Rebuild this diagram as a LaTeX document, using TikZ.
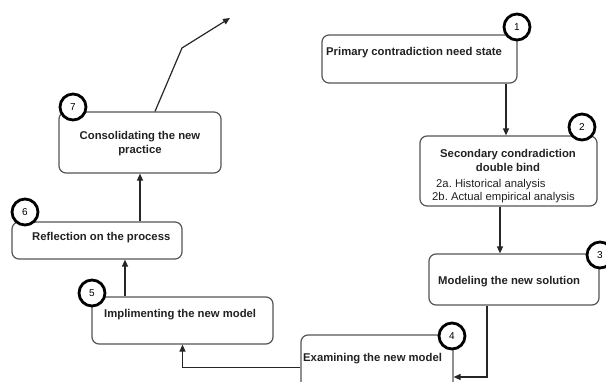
\documentclass[tikz,border=0pt]{standalone}
\usepackage{fontspec}
\setmainfont{Liberation Sans}
\usetikzlibrary{arrows.meta}
\definecolor{boxgray}{HTML}{555555}
\definecolor{textgray}{HTML}{222222}
\begin{document}
\begin{tikzpicture}[x=1pt,y=-1pt,
  box/.style={draw=boxgray, line width=1.2pt, rounded corners=7pt, fill=white, inner sep=0pt},
  num/.style={circle, draw=black, line width=2.8pt, fill=white, minimum size=26pt, inner sep=0pt, font=\fontsize{10}{11}\selectfont},
  lbl/.style={font=\bfseries\fontsize{11.3}{14}\selectfont, text=textgray, inner sep=0pt},
  sub/.style={font=\frenchspacing\fontsize{11.3}{13}\selectfont, text=textgray, inner sep=0pt},
  conn/.style={draw=black!85, line width=1.2pt, -{Triangle[length=7pt,width=6pt]}}]
\useasboundingbox (0,0) rectangle (606,381);
\clip (0,0) rectangle (606,381);
% boxes
\node[box, minimum width=195pt, minimum height=48pt] (b1) at (419.5,59) {};
\node[box, minimum width=177pt, minimum height=70pt] (b2) at (508.5,171) {};
\node[box, minimum width=170pt, minimum height=51pt] (b3) at (514,279.5) {};
\node[box, minimum width=152pt, minimum height=65pt] (b4) at (377,367.5) {};
\node[box, minimum width=181pt, minimum height=47pt] (b5) at (182.5,320.5) {};
\node[box, minimum width=170pt, minimum height=37pt] (b6) at (97,240.5) {};
\node[box, minimum width=162pt, minimum height=61pt] (b7) at (140,142.5) {};
% texts
\node[lbl, anchor=west] (t1) at (326,53) {Primary contradiction need state};
\node[lbl] (t2a) at (508,155) {Secondary condradiction};
\node[lbl] (t2b) at (508,167) {double bind};
\node[sub, anchor=west] (t2c) at (436,185) {2a. Historical analysis};
\node[sub, anchor=west] (t2d) at (432,198) {2b. Actual empirical analysis};
\node[lbl, anchor=west] (t3) at (438,282) {Modeling the new solution};
\node[lbl, anchor=west] (t4) at (303,359) {Examining the new model};
\node[lbl, anchor=west] (t5) at (104,315) {Implimenting the new model};
\node[lbl, anchor=west] (t6) at (32,238) {Reflection on the process};
\node[lbl, align=center] (t7) at (140,144) {Consolidating the new\\practice};
% connectors
\draw[conn] ([xshift=86.5pt]b1.south) -- ([xshift=86.5pt]b1.south |- b2.north);
\draw[conn] ([xshift=-8.5pt]b2.south) -- ([xshift=-8.5pt]b2.south |- b3.north);
\draw[conn] ([xshift=-27pt]b3.south) |- ([yshift=-9.5pt]b4.east);
\draw[conn] (b4.west) -| (b5.south);
\draw[conn] ([xshift=-57.5pt]b5.north) -- ([xshift=-57.5pt]b5.north |- b6.south);
\draw[conn] (b7.south |- b6.north) -- (b7.south);
\coordinate (bend) at (182,48);
\coordinate (out) at (230,18);
\draw[conn] ([xshift=15pt]b7.north) -- (bend) -- (out);
% number circles
\node[num] (c1) at (517,27) {1};
\node[num] (c2) at (582,127) {2};
\node[num] (c3) at (600,255) {3};
\node[num] (c4) at (452,336) {4};
\node[num] (c5) at (92,293) {5};
\node[num] (c6) at (25,212) {6};
\node[num] (c7) at (73,107) {7};
\end{tikzpicture}
\end{document}
